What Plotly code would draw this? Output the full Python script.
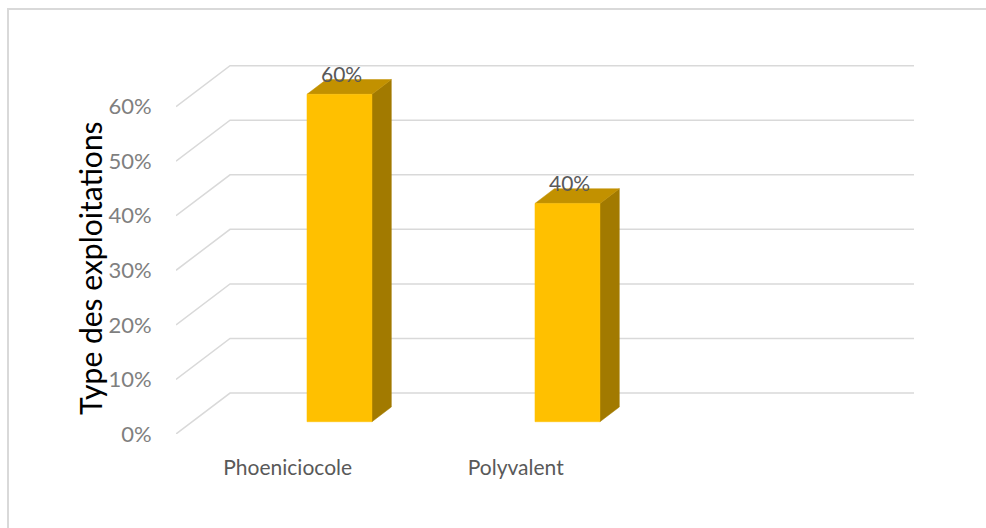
import plotly.graph_objects as go

# Chart data
categories = ["Phoeniciocole", "Polyvalent"]
shares = [60, 40]
y_ticks = [0, 10, 20, 30, 40, 50, 60]
y_tick_labels = ["0%", "10%", "20%", "30%", "40%", "50%", "60%"]
y_title = "Type des exploitations"

# Oblique 3D geometry (x in category units, y in percent)
N_SLOTS = 3
WALL_DX, WALL_DY = 0.237, 7.5      # back wall offset from the front plane
BAR_SHIFT = 0.217                  # bar front face centre offset from category centre
BAR_HALF = 0.1425                  # half width of the bar front face
BAR_BASE = 2.25                    # bar base height above the front floor edge
SIDE_DX, SIDE_DY = 0.085, 2.7      # bar depth
X_MIN = -0.5
X_MAX = N_SLOTS - 0.5 + WALL_DX

GRID = "#d9d9d9"
FRONT = "#ffc000"
TOP = "#c29100"
SIDE = "#a27a00"
FONT = "Lato"

fig = go.Figure()

# Floor / back wall grid lines: diagonal on the side wall, then horizontal on the back wall
for v in y_ticks:
    fig.add_trace(go.Scatter(
        x=[X_MIN, X_MIN + WALL_DX, X_MAX],
        y=[v, v + WALL_DY, v + WALL_DY],
        mode="lines", line=dict(color=GRID, width=1.5),
        hoverinfo="skip", showlegend=False, cliponaxis=False))

def poly(xs, ys, color):
    fig.add_trace(go.Scatter(
        x=xs + [xs[0]], y=ys + [ys[0]], mode="lines", fill="toself",
        fillcolor=color, line=dict(color=color, width=0.5),
        hoverinfo="skip", showlegend=False, cliponaxis=False))

for i, (cat, val) in enumerate(zip(categories, shares)):
    cx = i + BAR_SHIFT
    x0, x1 = cx - BAR_HALF, cx + BAR_HALF
    y0, y1 = BAR_BASE, BAR_BASE + val
    # right side face
    poly([x1, x1 + SIDE_DX, x1 + SIDE_DX, x1],
         [y0, y0 + SIDE_DY, y1 + SIDE_DY, y1], SIDE)
    # top face
    poly([x0, x1, x1 + SIDE_DX, x0 + SIDE_DX],
         [y1, y1, y1 + SIDE_DY, y1 + SIDE_DY], TOP)
    # front face
    poly([x0, x1, x1, x0], [y0, y0, y1, y1], FRONT)
    # value label
    fig.add_annotation(
        x=cx + 0.01, y=y1 + SIDE_DY, text=f"{val}%", showarrow=False,
        xanchor="center", yanchor="bottom", yshift=-8,
        font=dict(family=FONT, size=21, color="#595959"))

fig.update_layout(
    width=986, height=528,
    margin=dict(l=176, r=72, t=52, b=94),
    paper_bgcolor="white", plot_bgcolor="white",
    font=dict(family=FONT),
    xaxis=dict(
        range=[X_MIN, X_MAX], showgrid=False, zeroline=False, showline=False,
        tickmode="array", tickvals=[i - 0.01 for i in range(len(categories))],
        ticktext=categories, ticks="outside", ticklen=15, tickcolor="rgba(0,0,0,0)",
        tickfont=dict(family=FONT, size=21, color="#595959")),
    yaxis=dict(
        range=[0, 70], showgrid=False, zeroline=False, showline=False,
        tickmode="array", tickvals=y_ticks, ticktext=y_tick_labels,
        ticks="outside", ticklen=19, tickcolor="rgba(0,0,0,0)",
        tickfont=dict(family=FONT, size=22, color="#7f7f7f")),
    shapes=[dict(type="rect", xref="paper", yref="paper",
                 x0=(8 - 176) / 738, x1=(1100 - 176) / 738,
                 y0=-(600 - 434) / 382, y1=(434 - 9) / 382,
                 line=dict(color="#d9d9d9", width=2), layer="below")],
)

fig.add_annotation(
    xref="paper", yref="paper", x=(90 - 176) / 738, y=(434 - 268) / 382,
    text=y_title, textangle=-90, showarrow=False,
    xanchor="center", yanchor="middle",
    font=dict(family=FONT, size=30, color="#000000"))

fig.write_html("out.html")
